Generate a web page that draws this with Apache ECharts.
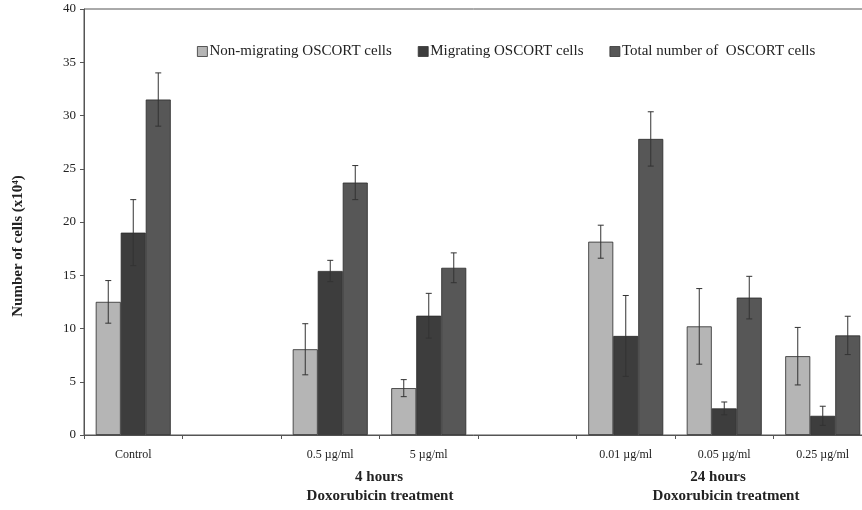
<!DOCTYPE html>
<html><head><meta charset="utf-8">
<script src="https://cdn.jsdelivr.net/npm/echarts@6/dist/echarts.min.js"></script>
<style>html,body{margin:0;padding:0;background:#fff}#c{width:862px;height:510px}</style>
</head><body><div id="c"></div>
<script>
const categories = ['Control', '', '0.5 µg/ml', '5 µg/ml', '', '0.01 µg/ml', '0.05 µg/ml', '0.25 µg/ml'];
const seriesNames = ['Non-migrating OSCORT cells', 'Migrating OSCORT cells', 'Total number of  OSCORT cells'];
const nonMigrating = [12.5, null, 8.05, 4.4, null, 18.15, 10.2, 7.4];
const nonMigratingErr = [2.0, null, 2.4, 0.8, null, 1.55, 3.55, 2.7];
const migrating = [19.0, null, 15.4, 11.2, null, 9.3, 2.5, 1.8];
const migratingErr = [3.1, null, 1.0, 2.1, null, 3.8, 0.6, 0.9];
const total = [31.5, null, 23.7, 15.7, null, 27.8, 12.9, 9.35];
const totalErr = [2.5, null, 1.6, 1.4, null, 2.55, 2.0, 1.8];
const yTicks = [0, 5, 10, 15, 20, 25, 30, 35, 40];
const groupLabels = [
  {line1: '4 hours', line2: 'Doxorubicin treatment'},
  {line1: '24 hours', line2: 'Doxorubicin treatment'}
];

const chart = echarts.init(document.getElementById('c'), null, {renderer: 'canvas'});
const serif = '"Liberation Serif", "DejaVu Serif", serif';
const colors = ['#b5b5b5', '#3d3d3d', '#575757'];
const BW = 25;

function errSeries(vals, errs, idx) {
  const data = vals.map((v, i) => v == null ? null : [i, v, errs[i]]).filter(d => d);
  return {
    type: 'custom', silent: true, z: 5,
    renderItem: function (params, api) {
      const i = api.value(0), v = api.value(1), e = api.value(2);
      const off = (idx - 1) * BW;
      const hi = api.coord([i, v + e]);
      const lo = api.coord([i, v - e]);
      const x = hi[0] + off;
      const cap = 3;
      const st = {stroke: '#333', lineWidth: 1};
      return {type: 'group', children: [
        {type: 'line', shape: {x1: x, y1: hi[1], x2: x, y2: lo[1]}, style: st},
        {type: 'line', shape: {x1: x - cap, y1: hi[1], x2: x + cap, y2: hi[1]}, style: st},
        {type: 'line', shape: {x1: x - cap, y1: lo[1], x2: x + cap, y2: lo[1]}, style: st}
      ]};
    },
    data: data
  };
}

function bar(name, vals, idx) {
  return {
    name: name, type: 'bar', data: vals, barWidth: BW, barGap: '0%',
    itemStyle: {color: colors[idx], borderColor: '#2a2a2a', borderWidth: 0.8}
  };
}

const boldText = {fontFamily: serif, fontSize: 15, fontWeight: 'bold', fill: '#222', align: 'center', verticalAlign: 'middle'};

chart.setOption({
  backgroundColor: '#fff',
  animation: false,
  grid: {left: 84, width: 788, top: 9, height: 426, outerBoundsMode: 'none', containLabel: false,
    show: true, borderColor: '#555', borderWidth: 1, backgroundColor: 'transparent'},
  legend: {
    top: 39, left: 192, itemGap: 26, itemWidth: 10, itemHeight: 10,
    icon: 'rect',
    textStyle: {fontFamily: serif, fontSize: 15, color: '#222', padding: [0, 0, 0, -3]},
    data: seriesNames.map((n, i) => ({name: n, itemStyle: {color: colors[i], borderColor: '#333', borderWidth: 0.8}}))
  },
  xAxis: {
    type: 'category', data: categories,
    axisLine: {lineStyle: {color: '#555'}},
    axisTick: {show: true, length: 4, lineStyle: {color: '#555'}},
    axisLabel: {fontFamily: serif, fontSize: 12, color: '#222', margin: 14, interval: 0}
  },
  yAxis: {
    type: 'value', min: 0, max: 40, interval: 5,
    axisLine: {show: true, lineStyle: {color: '#555'}},
    axisTick: {show: true, length: 4, lineStyle: {color: '#555'}},
    splitLine: {show: false},
    axisLabel: {fontFamily: serif, fontSize: 13, color: '#222', margin: 8,
      formatter: v => yTicks.includes(v) ? String(v) : ''}
  },
  graphic: [
    {type: 'text', x: 18, y: 246, rotation: Math.PI / 2, style: Object.assign({}, boldText, {text: 'Number of cells (x10⁴)', fontSize: 15})},
    {type: 'text', x: 379, y: 477, style: Object.assign({}, boldText, {text: groupLabels[0].line1})},
    {type: 'text', x: 380, y: 496, style: Object.assign({}, boldText, {text: groupLabels[0].line2})},
    {type: 'text', x: 718, y: 477, style: Object.assign({}, boldText, {text: groupLabels[1].line1})},
    {type: 'text', x: 726, y: 496, style: Object.assign({}, boldText, {text: groupLabels[1].line2})}
  ],
  series: [
    bar(seriesNames[0], nonMigrating, 0),
    bar(seriesNames[1], migrating, 1),
    bar(seriesNames[2], total, 2),
    errSeries(nonMigrating, nonMigratingErr, 0),
    errSeries(migrating, migratingErr, 1),
    errSeries(total, totalErr, 2)
  ]
});
</script></body></html>
